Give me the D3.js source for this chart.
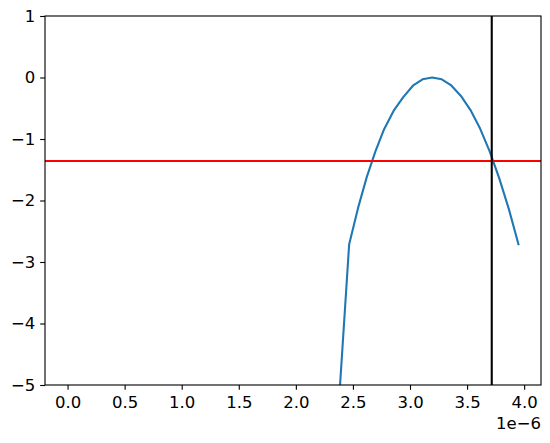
<!DOCTYPE html>
<html>
<head>
<meta charset="utf-8">
<script src="https://cdn.jsdelivr.net/npm/d3@7/dist/d3.min.js"></script>
<style>
  html, body { margin: 0; padding: 0; background: #fff; }
  svg { display: block; }
  text { font-family: "DejaVu Sans", sans-serif; }
</style>
</head>
<body>
<script>
// ---- data (x in units of 1e-6) ----
const xValues = [2.383, 2.467, 2.545, 2.621, 2.697, 2.773, 2.857, 2.941, 3.025, 3.110, 3.194,
                 3.278, 3.362, 3.446, 3.530, 3.614, 3.698, 3.782, 3.866, 3.950];
const yValues = [-5.12, -2.71, -2.12, -1.62, -1.20, -0.84, -0.54, -0.32, -0.134, -0.03, 0.0,
                 -0.03, -0.13, -0.30, -0.53, -0.83, -1.20, -1.64, -2.14, -2.71];
const hLineValue = -1.358;   // red horizontal line
const vLineValue = 3.716;    // black vertical line (×1e-6)
const xTicks = [0.0, 0.5, 1.0, 1.5, 2.0, 2.5, 3.0, 3.5, 4.0];
const xTickLabels = ["0.0", "0.5", "1.0", "1.5", "2.0", "2.5", "3.0", "3.5", "4.0"];
const yTicks = [1, 0, -1, -2, -3, -4, -5];
const yTickLabels = ["1", "0", "\u22121", "\u22122", "\u22123", "\u22124", "\u22125"];
const offsetText = "1e\u22126";

// ---- layout ----
const W = 550, H = 443;
const mLeft = 45, mRight = 541, mTop = 16, mBottom = 385;
const fontSize = 16.5;
const tickLen = 4.86, tickPad = 4.86;

const svg = d3.select("body").append("svg").attr("width", W).attr("height", H);

const x = d3.scaleLinear().domain([-0.1975, 4.1475]).range([mLeft, mRight]);
const y = d3.scaleLinear().domain([-5, 1]).range([mBottom, mTop]);

svg.append("defs").append("clipPath").attr("id", "clip")
  .append("rect").attr("x", mLeft).attr("y", mTop).attr("width", mRight - mLeft).attr("height", mBottom - mTop);

const plot = svg.append("g").attr("clip-path", "url(#clip)");

const pts = xValues.map((v, i) => [v, yValues[i]]);
const line = d3.line().x(d => x(d[0])).y(d => y(d[1]));
plot.append("path").datum(pts)
  .attr("d", line)
  .attr("fill", "none")
  .attr("stroke", "#1f77b4")
  .attr("stroke-width", 2.08)
  .attr("stroke-linejoin", "round")
  .attr("stroke-linecap", "square");

plot.append("line")
  .attr("x1", mLeft).attr("x2", mRight)
  .attr("y1", y(hLineValue)).attr("y2", y(hLineValue))
  .attr("stroke", "red").attr("stroke-width", 2.08);

plot.append("line")
  .attr("x1", x(vLineValue)).attr("x2", x(vLineValue))
  .attr("y1", mTop).attr("y2", mBottom)
  .attr("stroke", "black").attr("stroke-width", 2.08);

// axes
const xAxis = d3.axisBottom(x).tickValues(xTicks)
  .tickFormat((d, i) => xTickLabels[i]).tickSize(tickLen).tickPadding(tickPad);
const gx = svg.append("g").attr("transform", `translate(0,${mBottom})`).call(xAxis);
gx.attr("font-size", fontSize).attr("font-family", "DejaVu Sans, sans-serif");
gx.select(".domain").remove();
gx.selectAll("line").attr("stroke", "#000").attr("stroke-width", 1.11);
gx.selectAll("text").attr("fill", "#000").attr("y", 23.3).attr("dy", null);

const yAxis = d3.axisLeft(y).tickValues(yTicks)
  .tickFormat((d, i) => yTickLabels[i]).tickSize(tickLen).tickPadding(tickPad);
const gy = svg.append("g").attr("transform", `translate(${mLeft},0)`).call(yAxis);
gy.attr("font-size", fontSize).attr("font-family", "DejaVu Sans, sans-serif");
gy.select(".domain").remove();
gy.selectAll("line").attr("stroke", "#000").attr("stroke-width", 1.11);
gy.selectAll("text").attr("fill", "#000");

// frame
svg.append("rect")
  .attr("x", mLeft).attr("y", mTop).attr("width", mRight - mLeft).attr("height", mBottom - mTop)
  .attr("fill", "none").attr("stroke", "#000").attr("stroke-width", 1.11);

// offset text
svg.append("text")
  .attr("x", mRight).attr("y", 428.5)
  .attr("text-anchor", "end")
  .attr("font-size", fontSize)
  .text(offsetText);
</script>
</body>
</html>
